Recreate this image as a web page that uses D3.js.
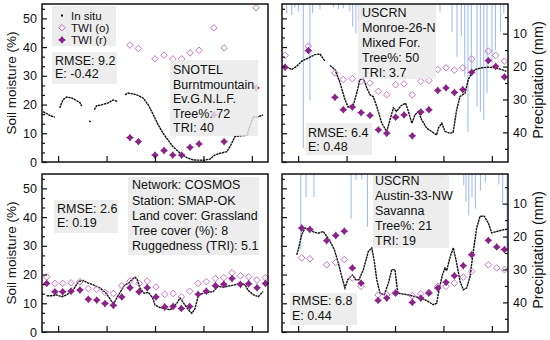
<!DOCTYPE html>
<html>
<head>
<meta charset="utf-8">
<script src="https://cdn.jsdelivr.net/npm/d3@7"></script>
<style>
  body { margin: 0; background: #fff; }
  text { font-family: "Liberation Sans", Arial, sans-serif; fill: #111; }
</style>
</head>
<body>
<svg width="550" height="340"></svg>
<script>
// ---- data ----
// day index along the record, soil moisture in %, precipitation in mm
const p1SituDay = [0.6, 3, 5.5, 8, 9.5, 11, 13, 15.3, 18.4, 20.4, 23.5, 24.6, 27, 29.2, 30.2, 31.3, 32.4, 33.9, 37, 41, 44, 47, 49, 51.4, 53.3, 56.4, 59.5, 62.6, 65.8, 69, 72, 75, 78, 81, 85.5, 89.6, 93.7, 100, 104, 107, 110, 114.5, 116.5, 119.6, 122.7, 127, 129, 131, 133, 137];
const p1SituVal = [17.5, 16.8, 16.0, 15.6, null, 18.8, 21.7, 22.6, 22.3, 21.7, 20.7, 19.4, null, 14.3, 14.0, null, 18.2, 19.6, 19.9, 20.6, 21.6, 21.0, null, 23.4, 24, 23.7, 23.2, 22.3, 19.9, 16.4, 12.9, 10, 7.7, 5.4, 3.1, 1.5, 0.7, 0.6, 1.0, 2.4, 3, 3.6, 5.4, 8.9, 9.1, 9.3, 12.9, 15.8, 15.6, 16.4];
const p1TwiDay = [54.5, 59.7, 70, 75.6, 81, 86.5, 91.7, 97.3, 106.5, 112.8, 132.6];
const p1TwiObs = [40.7, 39.5, 35.9, 37.2, 35.9, 35.9, 38, 38.9, 46.7, 39.7, 53.7];
const p1TwiRem = [8.5, 7.1, 2.4, 4.0, 2.4, 2.4, 5.1, 6.3, 16.4, 7.1, 25.8];

const p2SituDay = [0.8, 3.9, 6, 9.1, 12.2, 16.3, 20.4, 23.5, 26.6, 28, 29.7, 32.8, 36, 39, 41, 44.2, 46.3, 48.3, 50.4, 52.5, 54.5, 56.6, 58.7, 61.8, 64.9, 66.9, 69, 71, 73.7, 76.6, 78.3, 80.4, 82.4, 84.5, 86.5, 89.6, 92.7, 95.8, 96.9, 99, 101, 104, 106, 108.2, 110.3, 113.4, 115.4, 117.5, 119.6, 123.7, 127.8, 132, 136, 139];
const p2SituVal = [33.3, 32.8, 32.2, 33.3, 35.1, 36.2, 37.4, 37.6, 35.1, null, 33.6, 32.2, 27.5, 21.7, 19.1, 19.9, 24, 28.7, 29.2, 25.8, 23.4, 22.7, 19.3, 13.5, 10.6, 14.7, 18.8, 17.6, 19.6, 20.5, 17.6, 13.5, 16.4, 17.6, 14.7, 11.8, 10.6, 9.4, 11.8, 13.5, 10.6, 10, 10.3, 18.2, 22.8, 24, 28.7, 31, 32.2, 32.8, 33, 32.8, 32.2, 31.6];
const p2TwiDay = [1.9, 16.3, 32.8, 38, 43.6, 49, 54.5, 59.7, 64.9, 70.4, 75.6, 80.7, 86, 91, 96.5, 101.6, 106.8, 112, 117.5, 127.8, 132.4, 137.8];
const p2TwiObs = [37.1, 40.3, 31, 28.7, 29, 28.1, 27.5, 24.6, 23.4, 26.9, 27.2, 23.4, 28.1, 28.4, 32.2, 32.8, 32, 32.8, 35.9, 38.6, 37.1, 35.1];
const p2TwiRem = [33, 38.8, 22.5, 18.2, 19.1, 17.2, 16.2, 11.2, 10, 15.6, 16.4, 9.1, 17.4, 18.2, 24.9, 25.8, 24.2, 25.2, 31.2, 35.3, 33.3, 29.6];
const p2RainDay = [2.9, 6, 8, 10.1, 13.2, 17.3, 19, 23.5, 31.8, 34.9, 38, 42, 43.8, 45.8, 47.3, 49.4, 97.9, 105.3, 108.4, 111.1, 113.2, 115.2, 117.3, 120.8, 122.9, 125, 127, 130.1, 132.2, 135.3, 137.4];
const p2RainMm = [3.8, 4.3, 2.1, 3.3, 44.8, 30.2, 3.8, 2.6, 2, 2.6, 2.3, 3.2, 7.9, 9.9, 5.9, 5.0, 3.3, 9.4, 17, 10.9, 23.1, 39.8, 23, 32.2, 33.7, 36.3, 28.1, 19, 15, 9.4, 3.8];

const p3SituDay = [2.9, 6, 9.1, 12.2, 15.3, 19.4, 22.5, 25.6, 28.7, 31.8, 36, 39.7, 43.2, 44.6, 46.7, 49.4, 51.4, 53.5, 55.6, 57.6, 59, 60.7, 63.2, 65.9, 68.6, 70, 73.1, 76.2, 79.3, 81.4, 83.5, 85.5, 88.6, 90.7, 92.8, 94.8, 96.9, 100, 103, 106, 109.2, 112.3, 116.5, 119.6, 122.7, 125.8, 127.8, 131, 134, 137];
const p3SituVal = [12.6, 12.6, 12.9, 12.3, 12.9, 14.7, 17.6, 17.9, 17, 16.4, 15.3, 13.5, 10.6, 10, 12.3, 14.7, 16.4, 17, 18.2, 19.1, 18.2, 15.3, 13.5, 13.8, 11.8, 9.4, 8.5, 8.2, 7.7, 8.8, 10, 11.8, 9.4, 7.7, 6.5, 8.2, 12.9, 13.5, 13.8, 14.1, 15.9, 15.6, 16.1, 16.4, 17, 16.4, 14.4, 12.9, 12.3, 14.1];
const p3TwiDay = [2.9, 8, 12.8, 18, 23.5, 28.7, 33.9, 39, 44.2, 49.4, 54.5, 60.1, 65.2, 70.6, 76, 81.2, 86.3, 91.5, 96.7, 101.8, 107.4, 112.6, 117.7, 122.9, 128, 133.2, 138.4];
const p3TwiObs = [19.2, 16.9, 16.9, 17.1, 17.5, 15.1, 14.9, 13.8, 13.4, 16.1, 17.7, 16.9, 17.7, 15.7, 13.1, 13.4, 12.2, 14.2, 16.9, 17.5, 18.6, 18.9, 20.6, 19.6, 19.2, 18.1, 18.9];
const p3TwiRem = [16.9, 14, 14, 14.2, 14.6, 11.4, 11.1, 9.9, 9.3, 12.2, 15.4, 14, 15.4, 12.2, 8.7, 8.9, 8.2, 8.9, 13.1, 14.2, 16.1, 16.6, 18.6, 16.6, 16.8, 15.4, 16.9];

const p4SituDay = [9.1, 10.1, 12.2, 14.3, 17.3, 20, 22.5, 25.6, 27.7, 29.7, 32.4, 34.9, 37, 39, 40.7, 43.6, 45.7, 47.7, 50.4, 53.5, 55.6, 57.2, 58.7, 60.7, 63.4, 65.9, 68, 70, 71.7, 75.2, 78.3, 82.4, 86.5, 90.6, 93.7, 95.8, 97.3, 99.4, 101, 102, 104, 106.1, 108.2, 110.3, 112.3, 114.4, 116.5, 118.5, 120.6, 122.7, 125.3, 127.8, 129.9, 133, 137.2, 140];
const p4SituVal = [26.9, 28.7, 33.9, 36.2, 35.7, 34.7, 34.4, 35, 33.3, 31.6, 28.7, 24, 19.3, 15.3, 18.2, 19.9, 18.2, 18.2, 21.7, 28.1, 29.3, 24.6, 18.2, 13.5, 13, 17, 21.7, 21.7, 13.5, 13.2, 12.9, 12.3, 11.8, 10.6, 9.5, 10, 14.7, 19.9, 22.3, 21.3, 25.8, 29.3, 24, 17.6, 14.7, 15.3, 19.3, 28.1, 36.2, 40.3, 40.3, 38, 34.5, 35, 35.6, 35.8];
const p4TwiDay = [12.2, 17.3, 27.7, 33.3, 38.6, 43.6, 49, 59.5, 64.9, 70.4, 80.7, 86, 91, 96.5, 101.6, 106.8, 112.3, 117.5, 127.8, 133, 137.8];
const p4TwiObs = [25.8, 25.5, 23.4, 24.2, 25.2, 18.8, 15.9, 12.9, 12.9, 13.8, 12.6, 13.3, 13.8, 15.9, 15.9, 17, 19.1, 21.1, 23.4, 22.3, 21.7];
const p4TwiRem = [36.2, 35.7, 31.8, 33.6, 35.1, 22.3, 17, 11, 11.8, 13.5, 10.3, 11.8, 13.5, 15.3, 17.3, 19.6, 23.1, 26.9, 31.9, 29.6, 28.7];
const p4RainDay = [11.6, 14.9, 19.8, 42.8, 45.8, 49.4, 52.9, 99.1, 112.6, 114, 115.7, 117.7, 119.8, 122.9, 126, 134.3, 136.7, 139.4];
const p4RainMm = [23.9, 8, 8, 14.6, 2.9, 2.6, 17.1, 2.9, 4.4, 9.5, 13.6, 8, 11.5, 6, 3.5, 4.2, 10.5, 24.7];

const smTicks = [0, 10, 20, 30, 40, 50];
const rainTicks = [10, 20, 30, 40];
const dayTicks = [10, 40, 70, 100, 130];

const legendLabels = ["In situ", "TWI (o)", "TWI (r)"];
const p1Stats = ["RMSE: 9.2", "E: -0.42"];
const p1Info = ["SNOTEL", "Burntmountain", "Ev.G.N.L.F.", "Tree%: 72", "TRI: 40"];
const p2Stats = ["RMSE: 6.4", "E: 0.48"];
const p2Info = ["USCRN", "Monroe-26-N", "Mixed For.", "Tree%: 50", "TRI: 3.7"];
const p3Stats = ["RMSE: 2.6", "E: 0.19"];
const p3Info = ["Network: COSMOS", "Station: SMAP-OK", "Land cover: Grassland", "Tree cover (%): 8", "Ruggedness (TRI): 5.1"];
const p4Stats = ["RMSE: 6.8", "E: 0.44"];
const p4Info = ["USCRN", "Austin-33-NW", "Savanna", "Tree%: 21", "TRI: 19"];

// ---- drawing ----
const svg = d3.select("svg");
const openCol = "#c774c9", fillCol = "#8a2288", rainCol = "#7a9ef7";
const starPath = "M0,-3.9L1.7,-1.7L3.9,0L1.7,1.7L0,3.9L-1.7,1.7L-3.9,0L-1.7,-1.7Z";
const diaPath = "M0,-3.3L3.3,0L0,3.3L-3.3,0Z";

function panel(cfg) {
  const x = d3.scaleLinear().domain([0, 140]).range([cfg.x0, cfg.x1]);
  const y = d3.scaleLinear().domain([0, 55]).range([cfg.y1, cfg.y0]);
  const g = svg.append("g");

  // precipitation bars hang from the top
  if (cfg.rainDay) {
    const p = d3.scaleLinear().domain([1, 49]).range([cfg.y0, cfg.y1]);
    g.selectAll(".rain").data(cfg.rainDay).enter().append("line")
      .attr("x1", d => x(d)).attr("x2", d => x(d))
      .attr("y1", cfg.y0).attr("y2", (d, i) => p(cfg.rainMm[i]))
      .attr("stroke", rainCol).attr("stroke-width", 1).attr("opacity", 0.75);
    // right axis
    const ra = g.append("g").attr("transform", "translate(" + cfg.x1 + ",0)")
      .call(d3.axisLeft(p).tickValues(d3.range(5, 49, 5)).tickSize(3).tickFormat(""));
    ra.select(".domain").remove();
    ra.selectAll(".tick").filter(d => d % 10 === 0).select("line").attr("x2", -5);
    rainTicks.forEach(t => {
      g.append("text").attr("x", cfg.x1 + 5).attr("y", p(t) + 4.5)
        .attr("font-size", 12.5).text(t);
    });
    g.append("text").attr("transform", "translate(" + (cfg.x1 + 35) + "," + ((cfg.y0 + cfg.y1) / 2 - 3) + ") rotate(-90)")
      .attr("text-anchor", "middle").attr("font-size", 14.5).text("Precipitation (mm)");
  }

  // in situ record
  const line = d3.line().defined(d => d[1] !== null).x(d => x(d[0])).y(d => y(d[1]));
  g.append("path").datum(cfg.situDay.map((d, i) => [d, cfg.situVal[i]]))
    .attr("d", line).attr("fill", "none").attr("stroke", "#111")
    .attr("stroke-width", 1.4).attr("stroke-dasharray", "2.4,0.6");

  // TWI markers
  g.selectAll(".obs").data(cfg.twiDay).enter().append("path")
    .attr("d", diaPath).attr("transform", (d, i) => "translate(" + x(d) + "," + y(cfg.twiObs[i]) + ")")
    .attr("fill", "none").attr("stroke", openCol).attr("stroke-width", 1);
  g.selectAll(".rem").data(cfg.twiDay).enter().append("path")
    .attr("d", starPath).attr("transform", (d, i) => "translate(" + x(d) + "," + y(cfg.twiRem[i]) + ")")
    .attr("fill", fillCol);

  // text boxes
  cfg.boxes.forEach(b => {
    g.append("rect").attr("x", b[0]).attr("y", b[1]).attr("width", b[2]).attr("height", b[3])
      .attr("fill", "#e9e9e9").attr("opacity", 0.82);
  });
  cfg.texts.forEach(t => {
    t.lines.forEach((s, i) => {
      g.append("text").attr("x", t.x).attr("y", t.y + i * t.dy).attr("font-size", 12.5).text(s);
    });
  });

  // left axis ticks (inside)
  const la = g.append("g").attr("transform", "translate(" + cfg.x0 + ",0)")
    .call(d3.axisRight(y).tickValues(d3.range(0, 55.1, 10 / 3)).tickSize(3).tickFormat(""));
  la.select(".domain").remove();
  la.selectAll(".tick").filter(d => Math.abs(d - Math.round(d / 10) * 10) < 0.01).select("line").attr("x2", 5);
  if (cfg.leftLabels) {
    smTicks.forEach(t => {
      g.append("text").attr("x", cfg.x0 - 5).attr("y", y(t) + 4.5)
        .attr("text-anchor", "end").attr("font-size", 12.5).text(t);
    });
    g.append("text").attr("transform", "translate(" + (cfg.x0 - 26) + "," + ((cfg.y0 + cfg.y1) / 2) + ") rotate(-90)")
      .attr("text-anchor", "middle").attr("font-size", 13.5).text("Soil moisture (%)");
  }
  // bottom ticks
  const ba = g.append("g").attr("transform", "translate(0," + cfg.y1 + ")")
    .call(d3.axisTop(x).tickValues(dayTicks).tickSize(6).tickFormat(""));
  ba.select(".domain").remove();
  g.selectAll(".tick line").attr("stroke", "#111").attr("stroke-width", 1.2);

  // frame
  g.append("rect").attr("x", cfg.x0).attr("y", cfg.y0)
    .attr("width", cfg.x1 - cfg.x0).attr("height", cfg.y1 - cfg.y0)
    .attr("fill", "none").attr("stroke", "#111").attr("stroke-width", 1.5);
  return { g, x, y };
}

// top-left
const a = panel({
  x0: 42, x1: 268, y0: 4, y1: 162, leftLabels: true,
  situDay: p1SituDay, situVal: p1SituVal, twiDay: p1TwiDay, twiObs: p1TwiObs, twiRem: p1TwiRem,
  boxes: [[52, 6, 64, 40], [52, 52, 65, 32], [170, 60, 88, 76]],
  texts: [{ x: 55, y: 65, dy: 13, lines: p1Stats }, { x: 173, y: 74, dy: 14.5, lines: p1Info }]
});
// legend
legendLabels.forEach((s, i) => {
  a.g.append("text").attr("x", 71).attr("y", 19.5 + i * 12.2).attr("font-size", 11.5).text(s);
});
a.g.append("rect").attr("x", 61).attr("y", 14.5).attr("width", 2).attr("height", 2).attr("fill", "#111");
a.g.append("path").attr("d", diaPath).attr("transform", "translate(62,27.7)")
  .attr("fill", "none").attr("stroke", openCol);
a.g.append("path").attr("d", starPath).attr("transform", "translate(62,39.9)").attr("fill", fillCol);

// top-right
panel({
  x0: 282, x1: 508, y0: 4, y1: 162,
  situDay: p2SituDay, situVal: p2SituVal, twiDay: p2TwiDay, twiObs: p2TwiObs, twiRem: p2TwiRem,
  rainDay: p2RainDay, rainMm: p2RainMm,
  boxes: [[358, 5, 78, 74], [306, 123, 66, 32]],
  texts: [{ x: 362, y: 17, dy: 14.9, lines: p2Info }, { x: 308, y: 137, dy: 14, lines: p2Stats }]
});
// bottom-left
panel({
  x0: 42, x1: 268, y0: 174, y1: 332, leftLabels: true,
  situDay: p3SituDay, situVal: p3SituVal, twiDay: p3TwiDay, twiObs: p3TwiObs, twiRem: p3TwiRem,
  boxes: [[54, 200, 64, 33], [128, 177, 131, 78]],
  texts: [{ x: 57, y: 213.3, dy: 13.4, lines: p3Stats }, { x: 132, y: 189.3, dy: 15.2, lines: p3Info }]
});
// bottom-right
panel({
  x0: 282, x1: 508, y0: 174, y1: 332,
  situDay: p4SituDay, situVal: p4SituVal, twiDay: p4TwiDay, twiObs: p4TwiObs, twiRem: p4TwiRem,
  rainDay: p4RainDay, rainMm: p4RainMm,
  boxes: [[373, 175, 76, 73], [290, 293, 67, 32]],
  texts: [{ x: 375, y: 185, dy: 15, lines: p4Info }, { x: 292, y: 305, dy: 15, lines: p4Stats }]
});
</script>
</body>
</html>
